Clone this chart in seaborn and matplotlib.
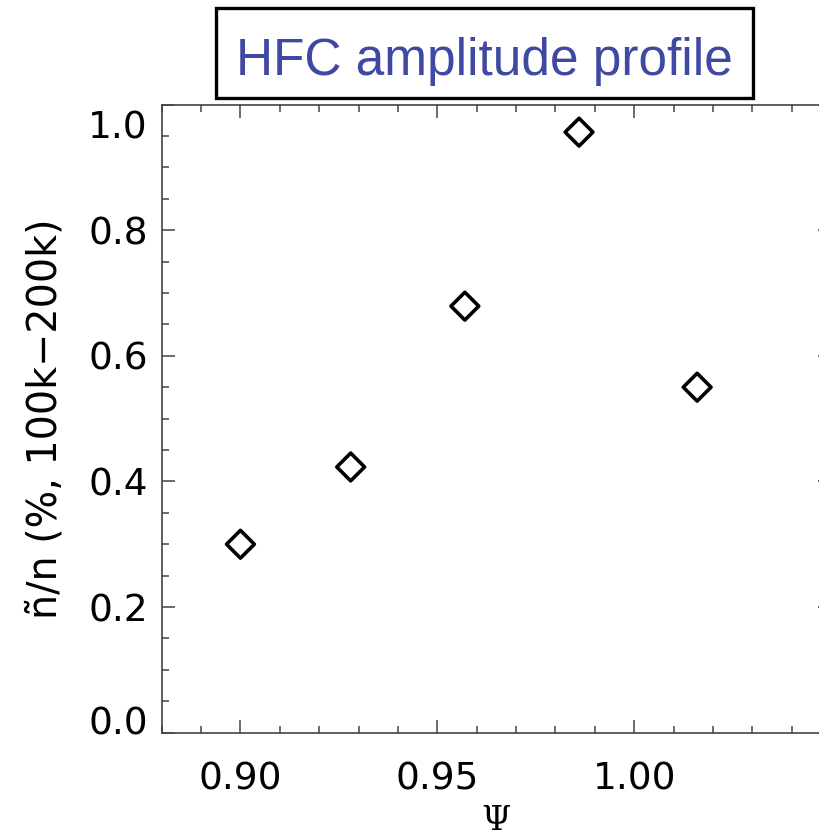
import matplotlib
matplotlib.use("Agg")
import matplotlib.pyplot as plt
import matplotlib.transforms as mtransforms
from matplotlib.patches import Rectangle
from matplotlib.ticker import MultipleLocator, FixedLocator, FormatStrFormatter
import seaborn as sns
import pandas as pd

# ---- data ----
psi = [0.900, 0.928, 0.957, 0.986, 1.016]
amplitude = [0.300, 0.423, 0.679, 0.956, 0.550]
x_major_ticks = [0.90, 0.95, 1.00]
y_major_ticks = [0.0, 0.2, 0.4, 0.6, 0.8, 1.0]
title_text = "HFC amplitude profile"
x_label = "\u03a8"
y_label = "\u00f1/n (%, 100k\u2212200k)"

df = pd.DataFrame({"psi": psi, "amp": amplitude})

sns.set_style("ticks")
plt.rcParams["font.family"] = ["DejaVu Sans"]

W, H = 819, 840
fig = plt.figure(figsize=(W / 100, H / 100), dpi=100)
ax = fig.add_axes([161.7 / W, 1 - 732.7 / H, (831 - 161.7) / W, (732.7 - 104.5) / H])

sns.scatterplot(data=df, x="psi", y="amp", ax=ax, marker="D", s=200,
                facecolor="none", edgecolor="black", linewidth=2.6, legend=False)

ax.set_xlim(0.88, 1.05)
ax.set_ylim(0.0, 1.0)
ax.xaxis.set_major_locator(FixedLocator(x_major_ticks))
ax.xaxis.set_minor_locator(MultipleLocator(0.01))
ax.yaxis.set_major_locator(FixedLocator(y_major_ticks))
ax.yaxis.set_minor_locator(MultipleLocator(0.05))
ax.xaxis.set_major_formatter(FormatStrFormatter("%.2f"))
ax.yaxis.set_major_formatter(FormatStrFormatter("%.1f"))

spine_col = "#444444"
for sp in ax.spines.values():
    sp.set_visible(True)
    sp.set_color(spine_col)
    sp.set_linewidth(1.2)

ax.tick_params(which="both", direction="in", top=True, right=True,
               color=spine_col, width=1.1)
ax.tick_params(which="major", length=9.5)
ax.tick_params(which="minor", length=5)
ax.tick_params(axis="x", which="major", pad=21, labelsize=27, labelcolor="black")
ax.tick_params(axis="y", which="major", pad=10, labelsize=27, labelcolor="black")

ax.set_xlabel(x_label, fontsize=24, family=["DejaVu Serif"], labelpad=5, color="black")
ax.set_ylabel(y_label, fontsize=28.5, labelpad=16, color="black")

# IDL-style shifting of end labels inside the axis range
fig.canvas.draw()
ylabels = ax.get_yticklabels()
shift_top = mtransforms.ScaledTranslation(0, -20 / 100, fig.dpi_scale_trans)
shift_bot = mtransforms.ScaledTranslation(0, 12 / 100, fig.dpi_scale_trans)
for lab in ylabels:
    t = lab.get_text()
    if t == "1.0":
        lab.set_transform(lab.get_transform() + shift_top)
    elif t == "0.0":
        lab.set_transform(lab.get_transform() + shift_bot)

# title box
fig.patches.append(Rectangle((216 / W, 1 - 97.5 / H), 537 / W, 89.5 / H,
                             transform=fig.transFigure, fill=True, facecolor="white",
                             edgecolor="black", linewidth=2.4))
fig.text(484 / W, 1 - 75 / H, title_text, ha="center", va="baseline",
         fontsize=37, color="#3F48A2", family=["Liberation Sans", "DejaVu Sans"])

fig.savefig("out.png", dpi=100)
